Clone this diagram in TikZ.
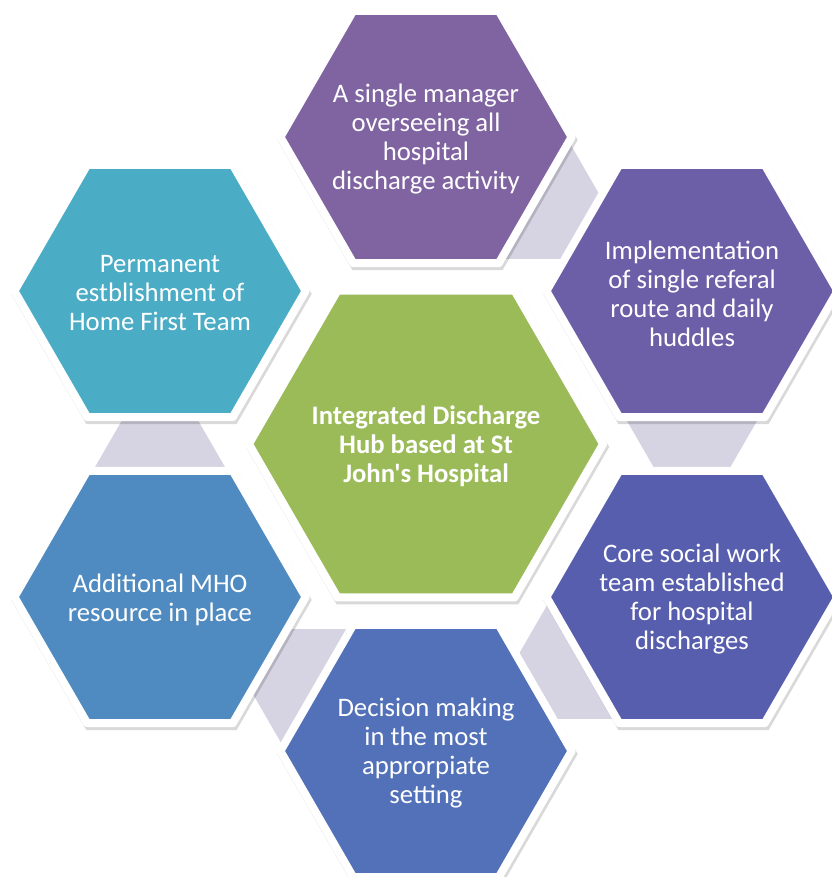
\documentclass[tikz,border=0pt]{standalone}
\usepackage{fontspec}
\setmainfont{Carlito}[Ligatures=TeXOff]
\usetikzlibrary{shapes.geometric}
\definecolor{cTop}{HTML}{8064A2}
\definecolor{cTR}{HTML}{6C5FA8}
\definecolor{cBR}{HTML}{575EAE}
\definecolor{cB}{HTML}{5271B8}
\definecolor{cBL}{HTML}{4F8BC0}
\definecolor{cTL}{HTML}{4BACC6}
\definecolor{cMid}{HTML}{9BBB59}
\definecolor{cLink}{HTML}{D6D3E3}
\begin{document}
\begin{tikzpicture}[x=0.03cm,y=-0.03cm,
  hexbase/.style={regular polygon, regular polygon sides=6, inner sep=0pt, outer sep=0pt},
  hexo/.style={hexbase, minimum size=8.736cm, draw=white, line width=0.24cm, line join=round},
  hexc/.style={hexbase, minimum size=10.626cm, draw=white, line width=0.24cm, line join=round},
  shado/.style={hexbase, minimum size=9.012cm, fill=black, fill opacity=0.15},
  shadc/.style={hexbase, minimum size=10.902cm, fill=black, fill opacity=0.15},
  linkhex/.style={hexbase, minimum size=4.14cm, fill=cLink},
  txt/.style={text=white, align=center, yshift=-0.075cm, font=\fontsize{22.8}{24.75}\selectfont},
  txtb/.style={txt, font=\fontsize{22.8}{24.75}\selectfont\bfseries}
]
\fill[white] (0,0) rectangle (831,877);
\useasboundingbox (0,0) rectangle (831,877);

% connectors
\node[linkhex] (c1) at (533,199) {};
\node[linkhex] (c2) at (692,414) {};
\node[linkhex] (c3) at (585,659) {};
\node[linkhex] (c4) at (319,689) {};
\node[linkhex] (c5) at (160,474) {};

% shadows
\node[shado] (s1) at (427.5,140) {};
\node[shado] (s2) at (693.5,294) {};
\node[shado] (s3) at (693.5,600) {};
\node[shado] (s4) at (427.5,754) {};
\node[shado] (s5) at (161.5,600) {};
\node[shado] (s6) at (161.5,294) {};
\node[shadc] (s0) at (427.5,447) {};

% hexagons
\node[hexo, fill=cTop] (h1) at (426,137) {};
\node[hexo, fill=cTR] (h2) at (692,291) {};
\node[hexo, fill=cBR] (h3) at (692,597) {};
\node[hexo, fill=cB] (h4) at (426,751) {};
\node[hexo, fill=cBL] (h5) at (160,597) {};
\node[hexo, fill=cTL] (h6) at (160,291) {};
\node[hexc, fill=cMid] (h0) at (426,444) {};

% texts
\node[txt] (t1) at (h1.center) {A single manager\\overseeing all\\hospital\\discharge activity};
\node[txt] (t2) at (h2.center) {Implementation\\of single referal\\route and daily\\huddles};
\node[txt] (t3) at (h3.center) {Core social work\\team established\\for hospital\\discharges};
\node[txt] (t4) at (h4.center) {Decision making\\in the most\\approrpiate\\setting};
\node[txt] (t5) at (h5.center) {Additional MHO\\resource in place};
\node[txt] (t6) at (h6.center) {Permanent\\estblishment of\\Home First Team};
\node[txtb] (t0) at (h0.center) {Integrated Discharge\\Hub based at St\\John's Hospital};
\end{tikzpicture}
\end{document}
